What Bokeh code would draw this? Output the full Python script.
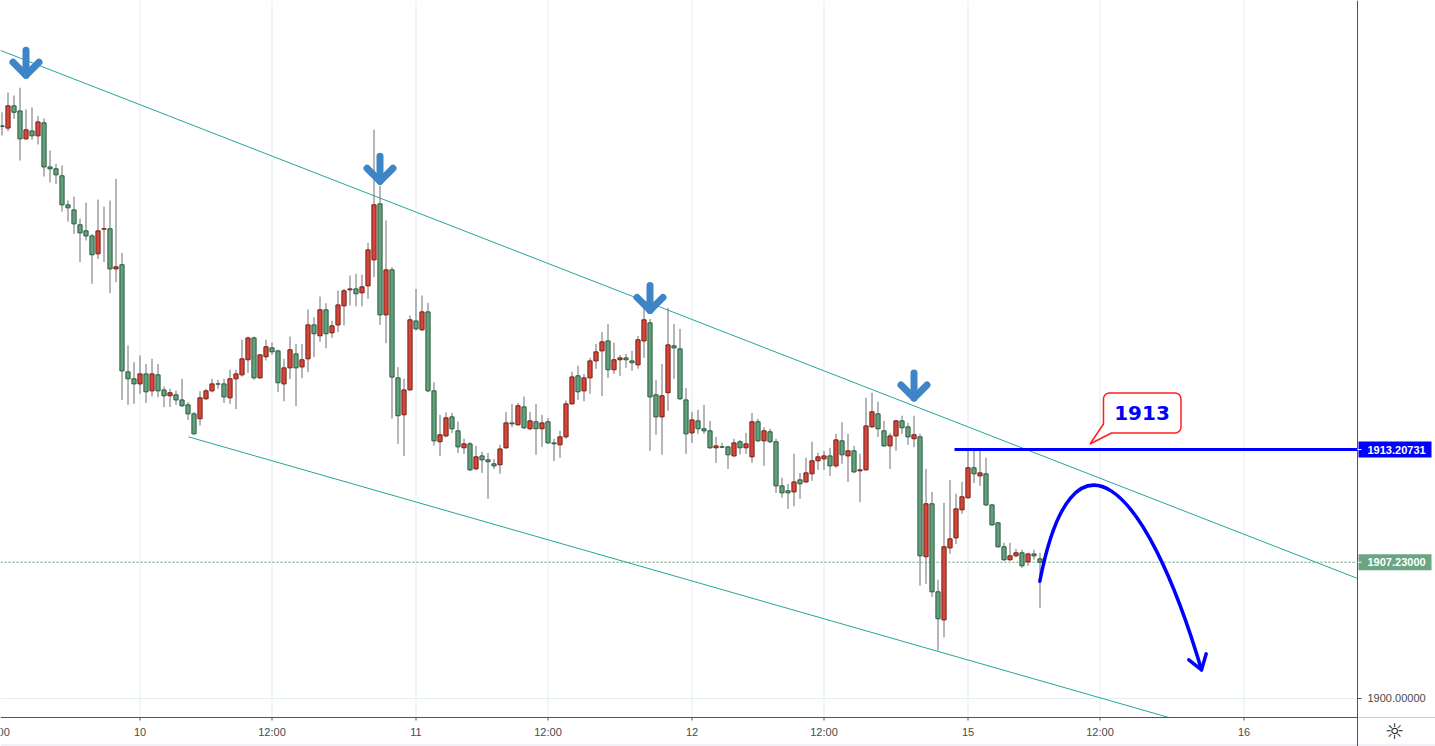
import numpy as np
from bokeh.plotting import figure
from bokeh.models import Range1d, ColumnDataSource
from bokeh.embed import file_html
from bokeh.resources import INLINE
from bokeh.core.properties import value

# ---------------- data (30-min bars) ----------------
opens = [1930.38, 1930.26, 1931.44, 1931.17, 1929.69, 1930.11, 1929.85, 1930.54, 1928.20, 1928.10,
         1927.73, 1926.19, 1925.92, 1925.13, 1924.81, 1924.54, 1923.59, 1924.90, 1924.92, 1922.79,
         1923.01, 1917.33, 1916.96, 1916.69, 1917.22, 1916.32, 1917.17, 1916.37, 1916.06, 1916.11,
         1915.84, 1915.58, 1915.10, 1914.84, 1915.90, 1916.32, 1916.69, 1916.69, 1915.95, 1916.96,
         1917.17, 1917.97, 1919.13, 1917.01, 1918.13, 1918.60, 1918.44, 1916.69, 1917.54, 1918.28,
         1917.59, 1918.02, 1919.82, 1919.24, 1920.62, 1919.40, 1919.82, 1920.83, 1921.68, 1921.73,
         1921.52, 1921.89, 1923.27, 1926.24, 1920.35, 1922.74, 1917.01, 1915.05, 1916.37, 1920.03,
         1919.56, 1920.51, 1916.32, 1913.62, 1913.93, 1914.94, 1914.20, 1913.30, 1913.51, 1912.18,
         1912.87, 1912.66, 1912.45, 1912.40, 1913.30, 1914.62, 1914.52, 1915.47, 1914.31, 1914.68,
         1914.31, 1914.68, 1913.56, 1913.46, 1913.88, 1915.63, 1917.12, 1916.32, 1917.01, 1917.91,
         1918.44, 1918.97, 1917.44, 1917.97, 1918.07, 1917.91, 1917.70, 1918.97, 1919.93, 1916.11,
         1914.94, 1916.22, 1918.71, 1918.55, 1915.84, 1914.09, 1914.73, 1914.31, 1914.20, 1913.30,
         1913.35, 1913.35, 1912.87, 1913.62, 1913.30, 1912.82, 1914.68, 1913.67, 1914.15, 1913.62,
         1911.28, 1911.02, 1910.96, 1911.60, 1911.49, 1911.92, 1912.61, 1912.71, 1912.87, 1912.34,
         1913.67, 1912.87, 1913.14, 1912.08, 1912.13, 1914.41, 1915.10, 1914.20, 1913.40, 1913.93,
         1914.73, 1914.41, 1913.78, 1913.88, 1907.52, 1910.33, 1905.66, 1904.17, 1907.99, 1908.52,
         1910.01, 1910.65, 1912.24, 1911.81, 1911.92, 1910.27, 1909.32, 1908.05, 1907.36, 1907.57,
         1907.73, 1907.25, 1907.67, 1907.41]

highs = [1931.10, 1932.15, 1931.99, 1932.40, 1931.25, 1931.35, 1930.91, 1930.77, 1929.07, 1928.36,
         1928.28, 1926.42, 1926.63, 1925.45, 1926.31, 1924.65, 1926.47, 1926.10, 1926.42, 1927.57,
         1923.64, 1918.73, 1917.84, 1918.20, 1917.75, 1918.02, 1917.75, 1916.55, 1916.43, 1916.34,
         1916.96, 1915.72, 1915.19, 1916.30, 1916.43, 1916.96, 1916.91, 1916.96, 1917.44, 1917.44,
         1919.03, 1919.20, 1919.20, 1918.28, 1919.03, 1918.89, 1918.50, 1918.02, 1919.20, 1918.81,
         1918.81, 1920.64, 1920.23, 1921.33, 1920.97, 1920.05, 1921.64, 1921.73, 1922.44, 1922.53,
         1922.49, 1924.17, 1930.18, 1927.21, 1925.36, 1922.88, 1917.58, 1916.96, 1920.32, 1921.73,
         1921.38, 1920.99, 1916.78, 1915.05, 1915.19, 1915.15, 1914.69, 1913.78, 1913.60, 1913.40,
         1913.09, 1913.03, 1912.71, 1913.46, 1915.21, 1915.63, 1915.68, 1916.02, 1915.21, 1915.63,
         1915.05, 1914.89, 1913.78, 1914.20, 1915.81, 1917.33, 1917.65, 1917.22, 1918.07, 1918.81,
         1919.45, 1919.86, 1918.87, 1918.23, 1918.28, 1918.44, 1919.24, 1921.10, 1920.14, 1916.91,
         1917.75, 1920.72, 1919.86, 1919.61, 1916.48, 1915.21, 1915.31, 1915.58, 1914.73, 1913.88,
         1913.56, 1913.40, 1913.78, 1913.72, 1914.09, 1915.15, 1914.84, 1914.39, 1914.31, 1913.78,
         1911.71, 1911.39, 1912.98, 1911.97, 1912.77, 1913.62, 1913.03, 1913.14, 1913.30, 1914.04,
         1914.66, 1914.04, 1913.40, 1912.98, 1915.95, 1916.22, 1915.74, 1914.73, 1914.09, 1914.78,
         1915.00, 1914.62, 1915.00, 1914.04, 1912.18, 1910.96, 1906.30, 1910.38, 1911.60, 1910.86,
         1911.49, 1913.24, 1913.19, 1913.19, 1912.77, 1910.33, 1909.35, 1908.26, 1908.26, 1907.94,
         1907.89, 1907.73, 1907.89, 1907.73]

lows = [1929.87, 1930.10, 1930.75, 1928.54, 1929.64, 1929.64, 1929.39, 1927.69, 1927.37, 1927.30,
        1925.83, 1925.30, 1924.65, 1923.15, 1924.30, 1922.00, 1923.32, 1923.15, 1921.50, 1922.09,
        1915.84, 1915.58, 1915.63, 1916.16, 1915.68, 1916.02, 1915.99, 1915.46, 1915.46, 1915.58,
        1915.46, 1914.78, 1914.00, 1914.48, 1915.84, 1916.25, 1916.43, 1915.68, 1915.63, 1915.35,
        1917.08, 1917.28, 1916.91, 1916.96, 1917.93, 1918.23, 1916.25, 1915.77, 1916.94, 1915.51,
        1916.99, 1917.31, 1918.11, 1918.92, 1918.58, 1919.13, 1919.43, 1919.79, 1920.85, 1920.80,
        1920.80, 1921.20, 1922.35, 1919.82, 1918.85, 1914.84, 1913.51, 1912.86, 1916.34, 1919.52,
        1919.49, 1916.25, 1913.42, 1912.86, 1913.86, 1914.09, 1913.03, 1912.98, 1912.06, 1912.13,
        1911.97, 1910.59, 1912.17, 1911.92, 1913.24, 1914.39, 1914.46, 1914.29, 1914.23, 1912.93,
        1913.35, 1913.51, 1912.59, 1912.77, 1913.78, 1915.60, 1915.84, 1915.77, 1916.16, 1917.49,
        1916.04, 1917.01, 1917.22, 1917.12, 1917.54, 1917.38, 1917.49, 1918.07, 1913.14, 1913.99,
        1912.93, 1915.26, 1916.96, 1915.84, 1912.98, 1913.56, 1914.04, 1914.04, 1913.24, 1912.50,
        1913.30, 1912.18, 1912.82, 1912.94, 1912.98, 1912.50, 1913.60, 1912.34, 1913.55, 1910.91,
        1910.65, 1910.06, 1910.20, 1910.59, 1911.44, 1911.55, 1912.13, 1912.13, 1911.81, 1912.24,
        1912.45, 1911.49, 1911.97, 1910.42, 1912.08, 1914.36, 1913.88, 1913.35, 1912.18, 1913.14,
        1914.04, 1913.46, 1913.33, 1905.98, 1906.08, 1905.39, 1902.55, 1903.25, 1907.67, 1908.20,
        1909.80, 1910.59, 1911.42, 1911.28, 1910.22, 1909.16, 1907.99, 1907.29, 1907.30, 1907.50,
        1906.93, 1907.04, 1907.36, 1904.81]

closes = [1930.34, 1931.44, 1931.10, 1929.69, 1930.17, 1929.85, 1930.59, 1928.20, 1928.10, 1927.78,
          1926.19, 1926.03, 1925.18, 1924.70, 1924.54, 1923.54, 1924.81, 1924.92, 1922.79, 1922.90,
          1917.38, 1916.96, 1916.69, 1917.22, 1916.27, 1917.22, 1916.32, 1916.06, 1916.22, 1915.84,
          1915.53, 1915.10, 1914.04, 1915.95, 1916.32, 1916.69, 1916.68, 1916.00, 1916.96, 1917.22,
          1918.02, 1919.13, 1917.01, 1918.23, 1918.66, 1918.39, 1916.75, 1917.54, 1918.50, 1917.54,
          1917.97, 1919.82, 1919.35, 1920.62, 1919.35, 1919.77, 1920.88, 1921.63, 1921.73, 1921.47,
          1921.84, 1923.80, 1926.19, 1920.35, 1922.74, 1917.05, 1915.00, 1916.37, 1920.09, 1919.61,
          1920.51, 1916.32, 1913.67, 1913.99, 1914.89, 1914.31, 1913.35, 1913.51, 1912.13, 1912.82,
          1912.66, 1912.56, 1912.34, 1913.24, 1914.62, 1914.57, 1915.53, 1914.36, 1914.73, 1914.31,
          1914.62, 1913.56, 1913.51, 1913.88, 1915.63, 1917.06, 1916.27, 1917.01, 1917.91, 1918.39,
          1918.92, 1917.44, 1917.97, 1918.07, 1917.97, 1917.81, 1919.03, 1920.09, 1916.00, 1914.94,
          1916.06, 1918.76, 1918.60, 1915.90, 1914.04, 1914.78, 1914.31, 1914.20, 1913.30, 1913.40,
          1913.33, 1912.93, 1913.56, 1913.30, 1913.51, 1914.68, 1913.67, 1914.20, 1913.62, 1911.28,
          1910.91, 1910.91, 1911.49, 1911.39, 1911.97, 1912.61, 1912.82, 1912.87, 1912.34, 1913.72,
          1912.93, 1913.14, 1912.02, 1912.13, 1914.46, 1915.21, 1914.31, 1913.40, 1913.93, 1914.73,
          1914.36, 1913.88, 1913.99, 1907.57, 1910.33, 1905.66, 1904.23, 1908.05, 1908.47, 1910.06,
          1910.70, 1912.24, 1911.92, 1911.97, 1910.27, 1909.21, 1908.05, 1907.36, 1907.57, 1907.73,
          1907.04, 1907.67, 1907.57, 1907.23]

# time axis: bar index of each tick and its label
tick_index = [-1, 23, 45, 69, 91, 115, 137, 161, 183, 207]
tick_labels = ["12:00", "10", "12:00", "11", "12:00", "12", "12:00", "15", "12:00", "16"]

# drawings (bar index / price)
upper_trend_x = [-0.25, 225.92]
upper_trend_y = [1934.38, 1906.37]
lower_trend_x = [31.08, 194.50]
lower_trend_y = [1913.88, 1898.99]
resistance_level = 1913.20731
resistance_start = 158.75
last_price = 1907.23
price_tick = 1900.0
arrow_index = [4, 63, 108, 152]
arrow_tip = [1933.06, 1927.44, 1920.59, 1915.94]
path_start = (172.97, 1906.22)
path_ctrl1 = (178.35, 1915.06)
path_ctrl2 = (190.45, 1911.70)
path_end = (199.92, 1901.52)
head_x = [197.80, 199.92, 200.70]
head_y = [1902.05, 1901.52, 1902.37]
callout_text = "1913"
callout_tip_x = 181.33
callout_tip_y = 1913.50

# ---------------- geometry (one canvas, scales set so 1 bar = 6 px) ----------------
W, H = 1435, 746
PXX = 6.0        # px per bar
PXY = 18.85      # px per price unit
X0 = -0.25
Y1 = 1937.029
XR = X0 + W / PXX
YB = Y1 - H / PXY
X_AX = X0 + 1357 / PXX      # price-scale border
Y_AX = Y1 - 717 / PXY       # time-scale border

GRID = "#e3edf4"
AX = "#50535e"
TXT = "#4a4a4a"

p = figure(width=W, height=H, x_range=Range1d(X0, XR), y_range=Range1d(YB, Y1),
           output_backend="svg", toolbar_location=None,
           x_axis_location=None, y_axis_location=None, min_border=0)
p.outline_line_color = None
p.grid.visible = False
p.background_fill_color = "white"
p.border_fill_color = "white"

# grid
p.segment(x0=tick_index, y0=[Y_AX] * len(tick_index), x1=tick_index, y1=[Y1] * len(tick_index),
          line_color=GRID, line_width=1)
p.segment(x0=[X0], y0=[price_tick], x1=[X_AX], y1=[price_tick], line_color=GRID, line_width=1)

# last price dotted line
p.segment(x0=[X0], y0=[last_price], x1=[X_AX], y1=[last_price], line_color="#5a9a78",
          line_dash="2 2", line_width=1)

# trend lines
p.line(upper_trend_x, upper_trend_y, line_color="#26a69a", line_width=1)
p.line(lower_trend_x, lower_trend_y, line_color="#26a69a", line_width=1)

# candles (red = up bar, green = down bar, as in the chart)
idx = list(range(len(opens)))
up = [c > o for o, c in zip(opens, closes)]
src = ColumnDataSource(dict(
    x=idx, high=highs, low=lows,
    top=[max(o, c) for o, c in zip(opens, closes)],
    bottom=[min(o, c) for o, c in zip(opens, closes)],
    fill=["#d3473a" if u else "#63a07c" for u in up],
    edge=["#7a1d15" if u else "#2b5b3f" for u in up],
))
p.segment(x0="x", y0="low", x1="x", y1="high", source=src, line_color="#6e6f74", line_width=1)
p.vbar(x="x", width=0.7, top="top", bottom="bottom", source=src,
       fill_color="fill", line_color="edge", line_width=1)

# resistance line
p.line([resistance_start, X_AX], [resistance_level, resistance_level],
       line_color="#0000ff", line_width=3)

# down arrows (shaft + chevron), sizes in pixels
SHAFT, ARM = 25, 13
axs, ays = [], []
for ai, at in zip(arrow_index, arrow_tip):
    axs.append([ai, ai]); ays.append([at, at + SHAFT / PXY])
    axs.append([ai - ARM / PXX, ai, ai + ARM / PXX]); ays.append([at + ARM / PXY, at, at + ARM / PXY])
p.multi_line(axs, ays, line_color="#3d85c6", line_width=7, line_cap="round", line_join="round")

# projected path
p.bezier(x0=[path_start[0]], y0=[path_start[1]], x1=[path_end[0]], y1=[path_end[1]],
         cx0=[path_ctrl1[0]], cy0=[path_ctrl1[1]], cx1=[path_ctrl2[0]], cy1=[path_ctrl2[1]],
         line_color="#0000ff", line_width=3.5, line_cap="round")
p.line(head_x, head_y, line_color="#0000ff", line_width=3.5, line_join="round", line_cap="round")

# callout (rounded box with tail), sizes in pixels relative to tail tip
bl, br, bt, bb, r = 13.5, 91.0, 51.0, 11.0, 6.0
pts = [(bl, 20.0)]
for cx, cy, a0, a1 in [(bl + r, bt - r, 180, 90), (br - r, bt - r, 90, 0), (br - r, bb + r, 0, -90)]:
    for a in np.linspace(np.radians(a0), np.radians(a1), 7):
        pts.append((cx + r * np.cos(a), cy + r * np.sin(a)))
pts += [(21.5, bb), (0.0, 0.0)]
p.patch([callout_tip_x + px / PXX for px, _ in pts], [callout_tip_y + py / PXY for _, py in pts],
        fill_color="white", line_color="#ff2020", line_width=1.5)
p.text(x=[callout_tip_x + 52 / PXX], y=[callout_tip_y + 31 / PXY], text=[callout_text],
       text_font=value("DejaVu Sans"), text_font_style="bold", text_font_size="20px",
       text_color="#0000ff", text_align="center", text_baseline="middle")

# ---------------- time scale ----------------
p.segment(x0=[X0], y0=[Y_AX], x1=[X_AX], y1=[Y_AX], line_color=AX, line_width=1)
p.segment(x0=[X_AX], y0=[Y_AX], x1=[XR], y1=[Y_AX], line_color="#c9ccd3", line_width=1)
p.segment(x0=[X0], y0=[YB + 1.5 / PXY], x1=[XR], y1=[YB + 1.5 / PXY], line_color="#e0e3eb", line_width=1)
p.segment(x0=tick_index, y0=[Y_AX] * len(tick_index), x1=tick_index,
          y1=[Y_AX - 3 / PXY] * len(tick_index), line_color=AX, line_width=1)
p.text(x=tick_index, y=[Y_AX - 14 / PXY] * len(tick_index), text=tick_labels,
       text_font=value("Liberation Sans"), text_font_size="11px", text_color=TXT,
       text_align="center", text_baseline="middle")

# ---------------- price scale ----------------
p.segment(x0=[X_AX], y0=[YB], x1=[X_AX], y1=[Y1], line_color=AX, line_width=1)
p.segment(x0=[X_AX], y0=[price_tick], x1=[X_AX + 4 / PXX], y1=[price_tick], line_color=AX, line_width=1)
p.text(x=[X_AX + 10 / PXX], y=[price_tick], text=["%.5f" % price_tick], text_font=value("Liberation Sans"),
       text_font_size="11px", text_color=TXT, text_baseline="middle", text_align="left")

levels = [resistance_level, last_price]
colors = ["#0000ff", "#6aa584"]
p.quad(left=[X_AX + 1 / PXX] * 2, right=[X_AX + 74 / PXX] * 2, top=[l + 8 / PXY for l in levels],
       bottom=[l - 8 / PXY for l in levels], fill_color=colors, line_color=None)
p.segment(x0=[X_AX] * 2, y0=levels, x1=[X_AX + 4 / PXX] * 2, y1=levels, line_color="white", line_width=1)
p.text(x=[X_AX + 10 / PXX] * 2, y=levels, text=["%.5f" % l for l in levels],
       text_font=value("Liberation Sans"), text_font_style="bold", text_font_size="11px",
       text_color="white", text_baseline="middle", text_align="left")

# settings glyph in the corner
p.text(x=[X_AX + 37 / PXX], y=[Y_AX - 14 / PXY], text=["\u263c"], text_font=value("DejaVu Sans"),
       text_font_size="22px", text_color="#222222", text_align="center", text_baseline="middle")

open("out.html", "w").write(file_html(p, INLINE))
